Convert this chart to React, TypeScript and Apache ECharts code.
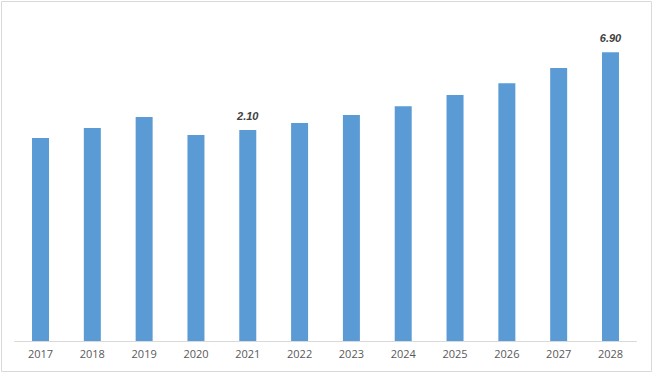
import React, { useEffect, useRef } from "react";
import * as echarts from "echarts";

const years = ["2017", "2018", "2019", "2020", "2021", "2022", "2023", "2024", "2025", "2026", "2027", "2028"];
const barValues = [4.85, 5.09, 5.35, 4.92, 5.04, 5.21, 5.40, 5.61, 5.88, 6.16, 6.52, 6.90];
const valueLabels = ["", "", "", "", "2.10", "", "", "", "", "", "", "6.90"];

export default function App() {
  const ref = useRef<HTMLDivElement>(null);
  useEffect(() => {
    if (!ref.current) return;
    const chart = echarts.init(ref.current, null, { renderer: "svg" });
    chart.setOption({
      animation: false,
      backgroundColor: "#ffffff",
      graphic: [
        {
          type: "rect",
          shape: { x: 1.5, y: 1.5, width: 650, height: 370 },
          style: { fill: "none", stroke: "#d9d9d9", lineWidth: 1 },
          silent: true,
        },
      ],
      grid: { left: 14.6, right: 23.6, top: 48, bottom: 36 },
      xAxis: {
        type: "category",
        data: years,
        axisLine: { lineStyle: { color: "#d9d9d9", width: 1 } },
        axisTick: { show: false },
        axisLabel: {
          color: "#595959",
          fontSize: 11,
          fontFamily: "Open Sans",
          margin: 7,
        },
      },
      yAxis: {
        type: "value",
        min: 0,
        max: 7,
        show: false,
        splitLine: { show: false },
      },
      series: [
        {
          type: "bar",
          data: barValues,
          barWidth: 17,
          itemStyle: { color: "#5b9bd5" },
          label: {
            show: true,
            position: "top",
            distance: 9,
            color: "#404040",
            fontSize: 11,
            fontWeight: "bold",
            fontStyle: "italic",
            fontFamily: "Liberation Sans",
            formatter: (p: any) => valueLabels[p.dataIndex],
          },
        },
      ],
    });
    return () => chart.dispose();
  }, []);
  return (
    <div
      ref={ref}
      style={{ position: "fixed", left: 0, top: 0, width: 660, height: 377 }}
    />
  );
}
